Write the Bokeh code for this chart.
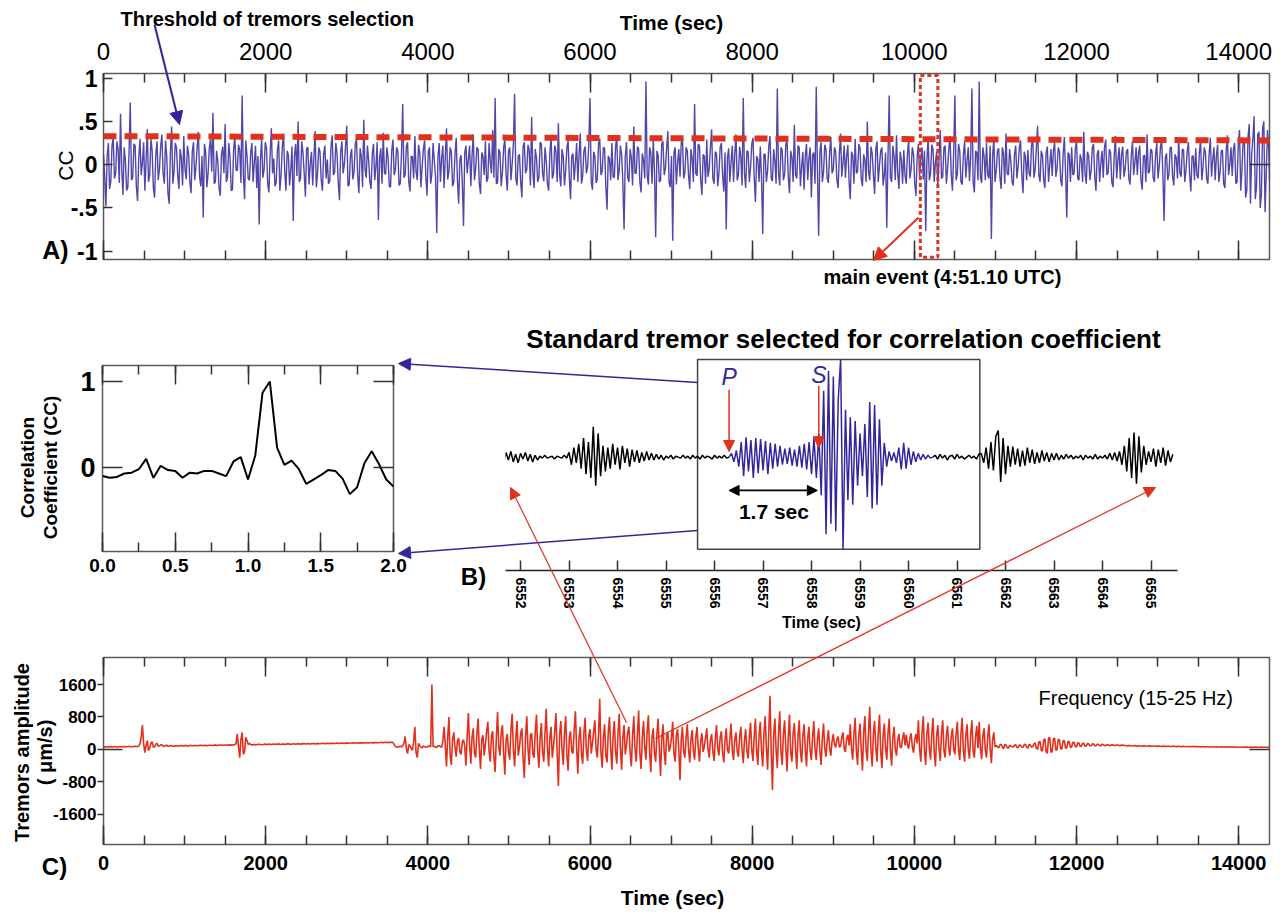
import numpy as np
from bokeh.plotting import figure
from bokeh.layouts import column
from bokeh.models import (LinearAxis, SingleIntervalTicker, FixedTicker, Range1d,
                          CustomJSTickFormatter, Arrow, NormalHead)
from bokeh.core.properties import value
from bokeh.embed import file_html
from bokeh.resources import INLINE

# ======================= DATA =======================
# Panel A: correlation coefficient vs time (one sample every 15 s)
cc_sample_interval = 15
cc_values = [
    0.12, -0.15, -0.48, 0.1, 0.25, -0.28, -0.2, 0.22, 0.31, -0.16, -0.1, 0.27, 0.18, -0.21, 0.59, -0.05, -0.35, 0.2, 0.05, -0.3, -0.26, 0.14, 0.72, -0.18, -0.15, 0.24, 0.22, -0.25, -0.42, 0.08, 0.3, -0.12, 0.02, 0.26, -0.3, 0.05, 0.41, -0.2, -0.12, 0.3, 0.16, -0.27, -0.38, 0.12, 0.27, -0.18, -0.05, 0.21, 0.35, -0.1, -0.22, 0.28, 0.1, -0.33, -0.45, 0.15, 0.44, -0.22, -0.08, 0.25,
    0.2, -0.12, -0.28, 0.18, 0.08, -0.24, 0.33, -0.05, -0.17, 0.22, 0.12, -0.2, -0.33, 0.15, 0.26, -0.18, -0.02, 0.2, 0.38, -0.14, -0.25, 0.1, -0.61, 0.24, 0.15, -0.26, -0.1, 0.19, 0.29, -0.08, 0.6, -0.22, -0.2, 0.16, 0.04, -0.27, -0.36, 0.12, 0.21, -0.1, 0.47, -0.2, -0.14, 0.25, 0.09, -0.3, -0.29, 0.18, 0.32, -0.06, -0.07, 0.23, 0.17, -0.21, 0.8, -0.12, -0.4, 0.28, 0.1, -0.16,
    -0.18, 0.14, 0.25, -0.2, 0.03, 0.22, -0.27, 0.1, -0.69, 0.05, 0.3, -0.15, -0.06, 0.26, 0.19, -0.22, -0.32, 0.12, 0.42, -0.1, 0.07, -0.25, -0.21, 0.17, 0.28, -0.3, -0.12, 0.2, 0.36, -0.08, -0.3, 0.16, 0.11, -0.24, -0.05, 0.21, -0.65, 0.1, 0.24, -0.13, 0.5, -0.2, -0.16, 0.27, 0.14, -0.1, -0.37, 0.19, 0.2, -0.23, 0.01, 0.15, -0.24, 0.09, 0.39, -0.26, -0.1, 0.2, 0.15, -0.18,
    -0.3, 0.12, 0.22, -0.16, 0.06, -0.22, -0.19, 0.2, 0.34, -0.12, -0.09, 0.25, 0.13, -0.2, -0.41, 0.15, 0.27, -0.1, 0.0, 0.21, 0.45, -0.25, -0.23, 0.1, 0.18, -0.17, -0.08, 0.24, 0.3, -0.14, -0.33, 0.19, 0.1, -0.26, 0.52, -0.05, -0.15, 0.22, 0.05, -0.2, -0.28, 0.13, 0.24, -0.18, -0.02, 0.26, -0.64, 0.08, 0.19, -0.22, 0.37, -0.1, -0.11, 0.2, 0.08, -0.25, -0.26, 0.16, 0.29, -0.12,
    -0.05, 0.2, 0.16, -0.24, -0.22, 0.12, 0.7, -0.15, -0.12, 0.21, 0.26, -0.2, -0.31, 0.1, 0.09, -0.16, 0.33, -0.08, -0.18, 0.23, 0.14, -0.26, -0.02, 0.18, 0.28, -0.13, -0.36, 0.15, 0.2, -0.22, -0.1, 0.25, 0.04, -0.14, -0.79, 0.1, 0.25, -0.2, 0.07, 0.22, -0.27, 0.08, 0.42, -0.17, -0.08, 0.2, 0.15, -0.25, -0.2, 0.12, 0.31, -0.18, -0.45, 0.06, 0.11, -0.21, -0.71, 0.14, 0.22, -0.1,
    0.06, 0.22, -0.25, 0.1, 0.35, -0.18, -0.04, 0.2, 0.18, -0.22, -0.34, 0.14, 0.1, -0.12, 0.27, -0.2, -0.16, 0.25, 0.03, -0.1, 0.4, -0.15, 0.77, -0.22, -0.21, 0.18, 0.14, -0.25, -0.09, 0.2, 0.29, -0.12, -0.3, 0.16, 0.2, -0.18, 0.01, 0.24, 0.82, -0.16, -0.24, 0.1, 0.12, -0.2, -0.38, 0.21, 0.26, -0.1, -0.06, 0.23, 0.17, -0.24, 0.55, -0.08, -0.27, 0.18, 0.08, -0.2, -0.14, 0.26,
    0.24, -0.1, -0.19, 0.2, 0.05, -0.22, -0.3, 0.14, 0.32, -0.16, -0.11, 0.22, 0.15, -0.2, 0.48, -0.12, -0.25, 0.18, 0.09, -0.24, -0.07, 0.2, 0.28, -0.15, -0.4, 0.1, 0.13, -0.18, 0.02, 0.25, -0.2, 0.12, 0.36, -0.22, -0.13, 0.16, 0.21, -0.1, -0.03, 0.23, 0.77, -0.2, -0.29, 0.15, 0.1, -0.21, -0.17, 0.24, 0.3, -0.12, -0.08, 0.2, 0.19, -0.25, -0.52, 0.1, 0.07, -0.18, 0.25, -0.14,
    -0.15, 0.2, 0.34, -0.18, -0.06, 0.22, 0.12, -0.2, -0.75, 0.1, 0.26, -0.15, -0.2, 0.18, 0.08, -0.24, 0.44, -0.1, -0.1, 0.21, 0.18, -0.2, -0.32, 0.13, 0.05, -0.16, 0.96, -0.12, -0.23, 0.2, 0.14, -0.22, 0.3, -0.08, -0.84, 0.16, 0.11, -0.2, -0.18, 0.24, 0.27, -0.12, -0.04, 0.19, 0.39, -0.2, -0.26, 0.1, -0.88, 0.14, 0.2, -0.23, 0.02, 0.18, -0.14, 0.25, 0.33, -0.16, -0.09, 0.2,
    0.16, -0.12, -0.28, 0.18, 0.07, -0.2, 0.7, -0.1, -0.13, 0.24, 0.22, -0.18, -0.35, 0.12, 0.1, -0.22, 0.29, -0.14, -0.05, 0.2, 0.41, -0.16, -0.22, 0.15, 0.13, -0.25, -0.1, 0.2, 0.25, -0.12, -0.31, 0.14, -0.75, 0.08, 0.19, -0.2, 0.04, 0.22, -0.2, 0.12, 0.35, -0.18, -0.12, 0.21, 0.09, -0.24, 0.77, -0.1, -0.27, 0.16, 0.15, -0.2, -0.03, 0.24, 0.31, -0.15, -0.43, 0.1, 0.06, -0.2,
    0.21, -0.14, -0.8, 0.12, 0.12, -0.2, -0.07, 0.22, 0.33, -0.16, -0.19, 0.18, 0.04, -0.22, 0.88, -0.1, -0.24, 0.2, 0.17, -0.18, -0.11, 0.24, 0.28, -0.14, -0.33, 0.16, 0.09, -0.2, 0.46, -0.12, -0.16, 0.22, 0.2, -0.25, -0.02, 0.15, -0.29, 0.1, 0.24, -0.18, 0.07, 0.2, -0.38, 0.12, 0.14, -0.22, 0.9, -0.06, -0.82, 0.15, 0.26, -0.2, -0.09, 0.23, 0.18, -0.16, -0.21, 0.14, 0.32, -0.1,
    -0.06, 0.2, 0.15, -0.18, -0.27, 0.12, 0.36, -0.14, 0.02, 0.22, -0.15, 0.1, 0.23, -0.2, -0.4, 0.15, 0.11, -0.22, 0.3, -0.1, -0.08, 0.24, 0.19, -0.16, -0.25, 0.12, 0.05, -0.2, 0.5, -0.08, -0.18, 0.21, 0.13, -0.12, -0.34, 0.18, 0.27, -0.2, -0.01, 0.16, 0.2, -0.24, -0.12, 0.14, -0.73, 0.1, 0.8, -0.15, -0.2, 0.22, 0.1, -0.18, 0.34, -0.1, -0.28, 0.15, 0.06, -0.22, 0.17, -0.12,
    -0.22, 0.12, 0.29, -0.16, -0.05, 0.2, 0.12, -0.22, -0.36, 0.1, 0.24, -0.14, 0.08, 0.2, -0.17, 0.16, -0.77, 0.05, 0.31, -0.18, -0.1, 0.23, 0.18, -0.2, 0.03, 0.15, -0.26, 0.1, 0.4, -0.16, -0.14, 0.2, 0.22, -0.22, -0.04, 0.18, 0.33, -0.12, -0.3, 0.14, 0.8, -0.18, -0.11, 0.24, 0.16, -0.2, -0.23, 0.12, 0.27, -0.15, 0.05, 0.2, -0.19, 0.1, 0.88, -0.2, -0.32, 0.16, 0.14, -0.18,
    0.96, -0.15, -0.21, 0.2, 0.1, -0.18, 0.25, -0.12, -0.16, 0.22, -0.86, 0.1, 0.3, -0.2, -0.07, 0.16, 0.19, -0.14, -0.28, 0.2, 0.13, -0.22, 0.36, -0.1, -0.12, 0.18, 0.04, -0.2, -0.24, 0.12, 0.22, -0.16, -0.02, 0.2, 0.28, -0.12, -0.33, 0.15, 0.09, -0.18, 0.17, -0.1, -0.14, 0.22, 0.31, -0.15, -0.06, 0.2, 0.45, -0.12, -0.2, 0.16, 0.11, -0.18, -0.27, 0.14, 0.21, -0.2, 0.0, 0.18,
    -0.13, 0.16, 0.26, -0.14, -0.04, 0.2, 0.15, -0.18, -0.25, 0.12, 0.32, -0.1, -0.61, 0.14, 0.12, -0.2, 0.2, -0.12, -0.1, 0.18, 0.28, -0.16, -0.18, 0.12, 0.06, -0.2, 0.38, -0.1, -0.22, 0.15, 0.1, -0.18, -0.07, 0.2, 0.24, -0.14, -0.3, 0.12, 0.17, -0.2, 0.02, 0.16, -0.15, 0.2, 0.29, -0.12, -0.09, 0.18, 0.14, -0.2, -0.26, 0.1, 0.33, -0.16, 0.05, 0.2, -0.17, 0.12, 0.21, -0.14,
    -0.05, 0.15, 0.18, -0.16, -0.23, 0.1, 0.27, -0.12, 0.03, 0.2, -0.12, 0.14, 0.22, -0.18, -0.29, 0.1, 0.11, -0.2, 0.35, -0.1, -0.08, 0.18, 0.16, -0.15, -0.2, 0.12, 0.25, -0.16, -0.02, 0.2, 0.3, -0.12, -0.65, 0.08, 0.13, -0.18, -0.11, 0.2, 0.2, -0.14, -0.24, 0.12, 0.08, -0.16, 0.32, -0.1, -0.14, 0.18, 0.17, -0.2, -0.06, 0.15, 0.26, -0.12, -0.31, 0.1, 0.1, -0.18, 0.19, -0.12,
    -0.16, 0.14, 0.28, -0.18, -0.03, 0.2, 0.14, -0.16, -0.22, 0.12, 0.31, -0.14, 0.06, 0.2, -0.18, 0.1, 0.23, -0.2, -0.09, 0.16, 0.17, -0.22, -0.27, 0.14, 0.34, -0.12, 0.0, 0.2, -0.13, 0.18, 0.25, -0.22, -0.2, 0.24, 0.4, -0.3, -0.07, 0.28, 0.29, -0.38, -0.3, 0.32, 0.47, -0.45, 0.12, 0.3, 0.56, -0.4, -0.25, 0.35, 0.38, -0.5, -0.35, 0.42, 0.5, -0.55, -0.1, 0.4, 0.2, -0.3,
]
threshold_time = [0, 14380]
threshold_cc = [0.33, 0.28]
main_event_window = [10074, 10290]

# Panel B (left): correlation coefficient vs lag (s)
corr_lag = [0.0, 0.05, 0.1, 0.15, 0.2, 0.25, 0.3, 0.35, 0.4, 0.45, 0.5, 0.55, 0.6, 0.65,
            0.7, 0.75, 0.8, 0.85, 0.9, 0.95, 1.0, 1.05, 1.1, 1.15, 1.2, 1.25, 1.3, 1.35,
            1.4, 1.45, 1.5, 1.55, 1.6, 1.65, 1.7, 1.75, 1.8, 1.85, 1.9, 1.95, 2.0]
corr_cc = [-0.10, -0.12, -0.11, -0.07, -0.06, -0.02, 0.10, -0.12, 0.02, -0.03, -0.04, -0.12,
           -0.06, -0.07, -0.04, -0.04, -0.07, -0.10, 0.07, 0.12, -0.14, 0.14, 0.87, 1.0,
           0.23, 0.03, 0.08, -0.02, -0.19, -0.14, -0.09, -0.03, -0.04, -0.13, -0.31, -0.23,
           0.05, 0.19, 0.04, -0.14, -0.22]

# Panel B (right): standard tremor waveform (normalised), sampled every 0.05 s
wave_dt = 0.05
wave_pre_start = 6551.60
wave_pre = [0.04, -0.07, 0.05, -0.03, 0.06, -0.05, 0.03, -0.06, 0.04, -0.02, 0.05, -0.04, 0.03, -0.05, 0.02, -0.03,
            0.01, -0.01, 0.02, -0.01, 0.0, 0.01, -0.02, 0.01, 0.0, -0.01, 0.02, -0.01,
            0.05, -0.08, 0.1, -0.06, 0.14, -0.12, 0.2, -0.18, 0.16, -0.22, 0.32, -0.3, 0.25, -0.2, 0.12, -0.15, 0.1,
            -0.12, 0.14, -0.08, 0.1, -0.13, 0.12, -0.06, 0.09, -0.1, 0.08, -0.05, 0.07, -0.06, 0.05, -0.04, 0.06, -0.03, 0.04,
            -0.03, 0.03, -0.02, 0.02, -0.03, 0.01, -0.01, 0.02, -0.02, 0.01, 0.0, -0.01, 0.02, -0.01, 0.01, -0.02,
            0.02, -0.01, 0.01, -0.02, 0.02, -0.01, 0.01, 0.0, -0.02, 0.02, -0.01, 0.01, -0.01, 0.02, -0.01, 0.0]
wave_sel_start = 6556.30
wave_sel = [0.0, 0.04, -0.05, 0.07,
            -0.1, 0.16, -0.2, 0.21, -0.15, 0.18, -0.22, 0.2, -0.17, 0.19, -0.14, 0.17, -0.18, 0.15, -0.12, 0.14, -0.1, 0.12, -0.08,
            0.09, -0.07, 0.1, -0.09, 0.08, -0.1, 0.12, -0.11, 0.14, -0.13, 0.16,
            -0.18, 0.2, -0.22, 0.25,
            -0.4, 0.7, -0.81, 0.91, -0.7, 0.85, -0.78, 0.6, 1.03,
            -0.97, 0.5, -0.45, 0.42, -0.5, 0.38, -0.3, 0.25, -0.2,
            0.35, -0.42, 0.58, -0.54, 0.55, -0.5, 0.4, -0.3, 0.15, -0.1, 0.06,
            -0.04, 0.05, -0.06, 0.1, -0.13, 0.15, -0.12, 0.1, -0.08, 0.06, -0.05, 0.04, -0.03, 0.03, -0.02, 0.02, -0.01, 0.0]
wave_post_start = 6560.50
wave_post = [0.0, 0.02, -0.02, 0.03, -0.01, 0.02, -0.03, 0.01, 0.02, -0.02, 0.03, -0.01, 0.01, -0.02, 0.0, 0.02, -0.01, 0.01, -0.02, 0.03,
             0.04, -0.06, 0.1, -0.12, 0.16, -0.14, 0.22, 0.28, -0.26, 0.2, -0.18, 0.12,
             -0.1, 0.11, -0.08, 0.09, -0.1, 0.07, -0.09, 0.1, -0.06, 0.08, -0.07, 0.05, -0.06, 0.07, -0.04, 0.05, -0.05, 0.04, -0.03, 0.04, -0.03,
             0.02, -0.02, 0.03, -0.01, 0.02, -0.02, 0.01, -0.01, 0.02, -0.03, 0.02, -0.01, 0.01, -0.02, 0.03, -0.02, 0.01, -0.01, 0.02, -0.02, 0.04, -0.03, 0.05, -0.04, 0.06,
             -0.08, 0.12, -0.15, 0.2, -0.22, 0.26, -0.28, 0.22, -0.16,
             0.12, -0.08, 0.06, -0.05, 0.09, -0.1, 0.08, -0.06, 0.1, -0.09, 0.07, -0.05, 0.03]
p_arrival = 6556.30
s_arrival = 6558.15
selection_window = [6555.65, 6561.47]
wave_ticks = [6552, 6553, 6554, 6555, 6556, 6557, 6558, 6559, 6560, 6561, 6562, 6563, 6564, 6565]

# Panel C: tremor amplitude (um/s), one sample every 15 s
amp_sample_interval = 15
amp_values = [
    60, 64, 66, 62, 58, 66, 70, 65, 62, 70, 68, 63, 60, 68, 72, 66, 64, 72, 70, 67, 66, 73, 74, 69, 68, 75, 76, 72, 70, 90, 140, 300, 600, 150, -80, 100, 220, -30, 40, 160, 190, 50, 70, 130, 150, 80, 90, 110, 120, 75, 80, 100, 105, 78, 85, 92, 95, 80, 82, 88,
    90, 86, 84, 92, 96, 90, 88, 95, 94, 89, 86, 97, 100, 93, 90, 98, 98, 94, 92, 101, 104, 97, 94, 102, 100, 95, 96, 103, 106, 99, 98, 107, 108, 101, 100, 109, 110, 104, 102, 111, 112, 106, 104, 113, 114, 108, 106, 115, 116, 150, 380, 60, -200, 250, 420, -120, -50, 300, 220, 120,
    150, 125, 112, 120, 124, 114, 116, 128, 130, 121, 118, 124, 126, 132, 120, 127, 134, 125, 122, 131, 130, 135, 126, 129, 138, 130, 124, 136, 132, 126, 128, 138, 140, 131, 126, 135, 136, 142, 130, 137, 144, 136, 132, 140, 138, 145, 134, 139, 146, 137, 136, 144, 142, 148, 138, 143, 150, 142, 140, 147,
    146, 150, 142, 148, 154, 147, 144, 152, 150, 155, 148, 151, 158, 150, 146, 156, 154, 160, 150, 155, 162, 154, 152, 160, 158, 163, 154, 159, 166, 158, 156, 164, 162, 168, 158, 163, 170, 162, 160, 167, 166, 172, 162, 168, 174, 166, 164, 171, 170, 176, 166, 172, 178, 170, 168, 175, 174, 178, 170, 120,
    70, 62, 55, 75, 80, 60, 90, 150, 320, 20, -100, 120, 80, 30, -20, 200, 560, -80, -200, 150, 100, 50, 40, 85, 70, 55, 60, 80, 90, 60, 1600, 70, 80, 60, 50, 90, 100, 65, 60, 200, 560, 100, -420, 300, 800, -150, -380, 250, 420, 50, -180, 220, 280, -60, -120, 180, 240, 80, -400, 350,
    900, 100, -350, 300, 520, -100, -200, 400, 760, 0, -480, 250, 350, -150, 120, 450, 680, -50, -300, 350, 450, -200, -560, 300, 920, 50, -150, 420, 600, -100, -620, 250, 380, -80, -250, 500, 880, 0, -420, 280, 700, -150, 50, 400, 520, -250, -700, 300, 820, 20, -380, 350, 400, -120, -200, 450, 860, -50, -450, 300,
    650, -80, -300, 400, 1000, 50, -420, 300, 560, -200, 80, 450, 900, -100, -900, 350, 700, 0, -380, 420, 820, -150, -520, 300, 450, -50, -100, 500, 940, 20, -600, 300, 560, -120, -350, 420, 780, -20, -280, 350, 500, -100, 150, 450, 720, 0, -200, 380, 1250, -80, -450, 300, 620, -150, -320, 420, 800, 30, -500, 350,
    700, -50, -350, 380, 880, 20, -500, 300, 600, -120, 100, 420, 560, -80, -420, 350, 820, 0, -300, 400, 960, -100, -480, 300, 700, 50, -250, 450, 840, -60, -560, 320, 520, -100, -300, 380, 760, 0, -650, 280, 620, -80, -380, 350, 420, -50, 60, 300, 680, -100, -300, 360, 500, 0, -760, 250, 560, -60, -200, 300,
    620, 0, -320, 250, 480, -50, -250, 300, 560, 20, -300, 220, 400, -60, 80, 280, 520, 0, -200, 240, 380, -40, -280, 260, 600, 30, -150, 300, 450, -80, -320, 220, 520, 0, -100, 280, 640, -20, -260, 250, 420, -50, -180, 300, 560, 10, -340, 240, 500, -40, -220, 300, 660, 0, -280, 320, 760, -60, -380, 350,
    680, -30, -420, 400, 820, 50, -500, 450, 1320, -100, -1000, 350, 760, 0, -460, 420, 940, -60, -380, 380, 720, 20, -540, 300, 860, -80, -300, 400, 650, 0, -480, 320, 720, -50, -320, 350, 620, 10, -420, 280, 560, -30, -260, 300, 700, 20, -260, 250, 520, -40, -380, 280, 640, 30, -180, 220, 480, 40, -150, 200,
    380, 120, 50, 250, 320, 60, 80, 300, 420, 20, -60, 280, 360, 100, 620, 0, -250, 400, 780, -50, -380, 350, 640, 0, -520, 420, 820, -30, -280, 450, 1050, -20, -420, 380, 700, 40, -300, 420, 860, -40, -460, 350, 640, 20, -250, 400, 760, -50, -400, 300, 560, 0, -150, 250, 380, 60, 40, 280, 420, 100,
    360, 110, 20, 280, 400, 60, -80, 250, 380, 150, 720, 0, -300, 420, 820, -40, -380, 400, 660, 20, -250, 380, 780, -60, -420, 350, 600, 10, -280, 400, 720, -30, -200, 350, 580, 20, -150, 320, 520, 0, -120, 380, 680, -20, -260, 400, 780, -50, -300, 350, 620, 0, -230, 380, 720, -40, -200, 330, 580, 30,
    680, 0, -240, 350, 520, -20, -200, 300, 620, 20, -340, 250, 420, 60, 100, 70, 40, 110, 130, 60, 20, 120, 110, 50, 30, 100, 90, 70, 60, 105, 120, 50, 40, 115, 100, 60, 50, 120, 130, 55, 30, 125, 110, 60, 70, 140, 160, 30, 0, 180, 200, -20, -40, 230, 260, -60, -90, 280, 300, -70,
    -50, 260, 280, -20, 0, 250, 240, 10, 20, 225, 210, 30, 40, 200, 190, 50, 60, 180, 170, 65, 70, 165, 160, 75, 80, 155, 150, 82, 85, 145, 140, 88, 90, 138, 135, 91, 92, 130, 128, 93, 95, 125, 122, 95, 96, 120, 118, 97, 98, 116, 114, 97, 96, 112, 110, 95, 94, 108, 106, 96,
    100, 92, 86, 95, 98, 90, 84, 93, 95, 88, 82, 91, 93, 86, 80, 89, 90, 84, 79, 87, 88, 82, 77, 85, 86, 80, 76, 83, 85, 79, 74, 82, 83, 77, 73, 80, 81, 76, 72, 79, 80, 74, 70, 77, 78, 73, 69, 76, 77, 72, 68, 74, 75, 71, 67, 73, 74, 70, 66, 71,
    72, 67, 64, 69, 70, 66, 63, 68, 69, 65, 62, 67, 68, 64, 61, 65, 66, 62, 60, 64, 65, 61, 59, 63, 64, 60, 58, 62, 63, 59, 57, 61, 62, 58, 56, 60, 61, 58, 56, 59, 60, 57, 55, 58, 59, 56, 55, 57, 58, 55, 54, 56, 57, 55, 54, 56, 56, 54, 53, 55,
]
amp_ticks = [-1600, -800, 0, 800, 1600]

# ======================= STYLE =======================
W, H = 1288, 915
FONT = "Liberation Sans"
BLUE = "#33269a"
RED = "#e0301e"
FRAME = "#5a5a5a"
TICK = "#333333"

cc_time = np.arange(len(cc_values)) * cc_sample_interval
amp_time = np.arange(len(amp_values)) * amp_sample_interval
t_pre = wave_pre_start + np.arange(len(wave_pre)) * wave_dt
t_sel = wave_sel_start + np.arange(len(wave_sel)) * wave_dt
t_post = wave_post_start + np.arange(len(wave_post)) * wave_dt


def empty_fmt():
    return CustomJSTickFormatter(code="return ''")


def panel(left, right, top, bottom, xr, yr, outline=True):
    p = figure(width=W, height=H, x_range=xr, y_range=yr, output_backend="svg",
               toolbar_location=None, x_axis_location=None, y_axis_location=None,
               title_location=None,
               min_border_left=left, min_border_right=W - right,
               min_border_top=top, min_border_bottom=H - bottom)
    p.frame_align = False
    p.background_fill_color = None
    p.border_fill_color = None
    p.grid.visible = False
    p.outline_line_color = FRAME if outline else None
    p.outline_line_width = 1.5
    return p


def axis(p, side, ticker, fmt=None, tin=0, tout=0, min_in=0, size="1px", style="bold",
         standoff=2, orient="horizontal", line=None):
    ax = LinearAxis(ticker=ticker, formatter=fmt if fmt is not None else empty_fmt())
    ax.axis_line_color = line
    ax.axis_line_width = 1.5
    ax.major_tick_in = tin
    ax.major_tick_out = tout
    ax.major_tick_line_color = TICK
    ax.major_tick_line_width = 1.5
    ax.minor_tick_in = min_in
    ax.minor_tick_out = 0
    ax.minor_tick_line_color = TICK if min_in else None
    ax.minor_tick_line_width = 1.5
    ax.major_label_text_font = FONT
    ax.major_label_text_font_size = size
    ax.major_label_text_font_style = style
    ax.major_label_text_color = "black"
    ax.major_label_standoff = standoff
    ax.major_label_orientation = orient
    p.add_layout(ax, side)
    return ax


# ---------------- Panel A ----------------
pA = panel(103, 1269, 73, 259, Range1d(0, 14380), Range1d(-1.096, 1.054))
axis(pA, "above", SingleIntervalTicker(interval=2000, num_minor_ticks=4),
     CustomJSTickFormatter(code="return tick.toFixed(0)"), tin=19, min_in=9,
     size="24px", style="normal", standoff=14)
axis(pA, "below", SingleIntervalTicker(interval=2000, num_minor_ticks=4), tin=19, min_in=9)
axis(pA, "left", FixedTicker(ticks=[-1, -0.5, 0, 0.5, 1]),
     CustomJSTickFormatter(code="return tick == 0.5 ? '.5' : (tick == -0.5 ? '-.5' : tick.toFixed(0))"),
     tin=9, size="23px", standoff=6)
axis(pA, "right", FixedTicker(ticks=[0]), tin=20)
pA.line(cc_time, cc_values, line_color=BLUE, line_width=1.4, line_alpha=0.85)
pA.line(threshold_time, threshold_cc, line_color=RED, line_width=6, line_dash="13 8")
pA.quad(left=[main_event_window[0]], right=[main_event_window[1]], top=[1.03], bottom=[-1.07],
        fill_color=None, line_color=RED, line_width=3, line_dash="4 3")

# ---------------- Panel B left ----------------
pB1 = panel(102, 393, 365, 551, Range1d(0, 2), Range1d(-0.977, 1.186))
axis(pB1, "below", SingleIntervalTicker(interval=0.5, num_minor_ticks=2),
     CustomJSTickFormatter(code="return tick.toFixed(1)"), tin=19, min_in=9,
     size="19px", standoff=7)
axis(pB1, "above", SingleIntervalTicker(interval=0.5, num_minor_ticks=2), tin=19, min_in=9)
axis(pB1, "left", FixedTicker(ticks=[-1, 0, 1]),
     CustomJSTickFormatter(code="return tick.toFixed(0)"), tin=20, size="27px", standoff=7)
axis(pB1, "right", FixedTicker(ticks=[0, 1]), tin=20)
pB1.line(corr_lag, corr_cc, line_color="black", line_width=2)

# ---------------- Panel B right ----------------
pB2 = panel(505, 1177, 340, 570, Range1d(6551.69, 6565.546), Range1d(-1.193, 1.228), outline=False)
axis(pB2, "below", FixedTicker(ticks=wave_ticks),
     CustomJSTickFormatter(code="return tick.toFixed(0)"), tin=10, size="14px",
     standoff=7, orient="vertical", line="#222222")
pB2.quad(left=[selection_window[0]], right=[selection_window[1]], top=[1.028], bottom=[-0.97],
         fill_color=None, line_color="#444444", line_width=1.5)
pB2.line(t_pre, wave_pre, line_color="black", line_width=1.5)
pB2.line(t_post, wave_post, line_color="black", line_width=1.5)
pB2.line(t_sel, wave_sel, line_color=BLUE, line_width=1.5)
for t, y0, y1, lab, ly in [(p_arrival, 0.71, 0.06, "P", 0.84), (s_arrival, 0.75, 0.10, "S", 0.86)]:
    pB2.add_layout(Arrow(x_start=t, y_start=y0, x_end=t, y_end=y1, line_color=RED, line_width=1.5,
                         end=NormalHead(size=11, fill_color=RED, line_color=RED)))
    pB2.text(x=[t], y=[ly], text=[lab], text_font=value(FONT), text_font_size="23px",
             text_font_style="italic", text_color=BLUE, text_align="center", text_baseline="middle")
pB2.add_layout(Arrow(x_start=p_arrival, y_start=-0.35, x_end=s_arrival - 0.03, y_end=-0.35,
                     line_color="black", line_width=1.8,
                     start=NormalHead(size=10, fill_color="black", line_color="black"),
                     end=NormalHead(size=10, fill_color="black", line_color="black")))
pB2.text(x=[(p_arrival + s_arrival) / 2], y=[-0.57], text=["1.7 sec"], text_font=value(FONT),
         text_font_size="21px", text_font_style="bold", text_color="black",
         text_align="center", text_baseline="middle")

# ---------------- Panel C ----------------
pC = panel(103, 1269, 657, 844, Range1d(0, 14380), Range1d(-2340, 2265))
axis(pC, "below", SingleIntervalTicker(interval=2000, num_minor_ticks=4),
     CustomJSTickFormatter(code="return tick.toFixed(0)"), tin=19, min_in=9,
     size="20px", standoff=11)
axis(pC, "above", SingleIntervalTicker(interval=2000, num_minor_ticks=4), tin=19, min_in=9)
axis(pC, "left", FixedTicker(ticks=amp_ticks),
     CustomJSTickFormatter(code="return tick.toFixed(0)"), tout=6, size="17px", standoff=1)
axis(pC, "right", FixedTicker(ticks=[0]), tin=20)
pC.ray(x=[0], y=[0], length=19, length_units="screen", angle=0, line_color=TICK, line_width=1.5)
pC.line(amp_time, amp_values, line_color=RED, line_width=1.6, line_alpha=1.0)

# ---------------- Overlay: labels and connecting arrows ----------------
ov = figure(width=W, height=H, x_range=Range1d(0, W), y_range=Range1d(H, 0),
            output_backend="svg", toolbar_location=None, x_axis_location=None,
            y_axis_location=None, title_location=None, min_border=0)
ov.frame_align = False
ov.background_fill_color = None
ov.border_fill_color = None
ov.outline_line_color = None
ov.grid.visible = False


def label(x, y, txt, size, style="bold", align="center", angle=0.0, color="black"):
    ov.text(x=[x], y=[y], text=[txt], text_font=value(FONT), text_font_size=f"{size}px",
            text_font_style=style, text_align=align, text_baseline="middle",
            angle=angle, text_color=color)


label(671, 22, "Time (sec)", 21)
label(120, 18, "Threshold of tremors selection", 20, align="left")
label(65, 165, "CC", 21, style="normal", angle=np.pi / 2)
label(55, 249, "A)", 25)
label(942, 276, "main event (4:51.10 UTC)", 20)
label(843, 338, "Standard tremor selected for correlation coefficient", 26)
label(27, 467, "Correlation", 19, angle=np.pi / 2)
label(50, 467, "Coefficient (CC)", 19, angle=np.pi / 2)
label(473, 576, "B)", 24)
label(821, 622, "Time (sec)", 16)
label(21, 752, "Tremors amplitude", 20, angle=np.pi / 2)
label(44, 752, "( μm/s)", 20, angle=np.pi / 2)
label(54, 866, "C)", 24)
label(672, 897, "Time (sec)", 21)
label(1038, 697, "Frequency (15-25 Hz)", 20, style="normal", align="left")

for (xs, ys, xe, ye, col, lw, hs) in [
    (154, 24, 179, 124, BLUE, 2, 13),
    (918, 217, 873, 260, RED, 2, 13),
    (697, 382, 398, 363, BLUE, 1.5, 12),
    (697, 530, 398, 553, BLUE, 1.5, 12),
    (626, 722, 510, 487, RED, 1.2, 11),
    (655, 738, 1155, 487, RED, 1.2, 11),
]:
    ov.add_layout(Arrow(x_start=xs, y_start=ys, x_end=xe, y_end=ye, line_color=col, line_width=lw,
                        end=NormalHead(size=hs, fill_color=col, line_color=col)))

# stack all layers on top of each other (negative top margin = overlap)
for fig in (pB1, pB2, pC, ov):
    fig.margin = (-H, 0, 0, 0)
pA.margin = (0, 0, 0, 0)
layout = column(pA, pB1, pB2, pC, ov, spacing=0)

open("out.html", "w").write(file_html(layout, INLINE))
